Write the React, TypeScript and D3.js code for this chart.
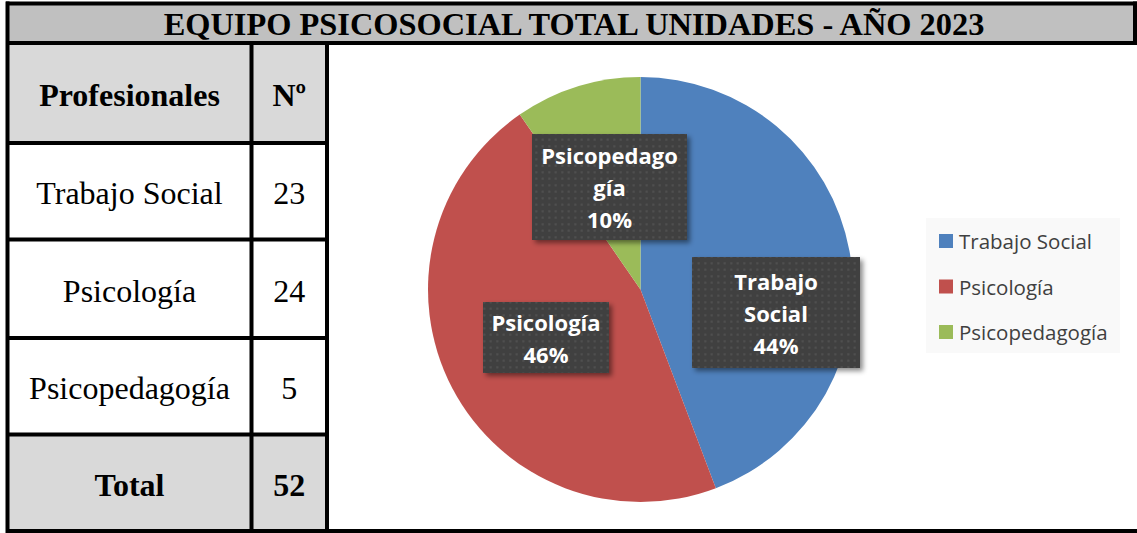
import React from "react";
import * as d3 from "d3";

const title = "EQUIPO PSICOSOCIAL TOTAL UNIDADES - AÑO 2023";
const headers = ["Profesionales", "Nº"];
const categories = ["Trabajo Social", "Psicología", "Psicopedagogía"];
const counts = [23, 24, 5];
const totalLabel = "Total";
const labelLines = [["Trabajo", "Social"], ["Psicología"], ["Psicopedago", "gía"]];
const colors = ["#4f81bd", "#c0504d", "#9bbb59"];

const W = 1137;
const H = 533;

// layout
const rowLines = [43, 143, 239.5, 338, 434.5, 531];
const colX = [7.5, 251.5, 327];
const pieC = { x: 640.5, y: 289.5, r: 212.5 };
const labelBoxes = [
  { cx: 776, cy: 312.5, w: 168, h: 111 },
  { cx: 546, cy: 337.5, w: 126, h: 71 },
  { cx: 609.5, cy: 187, w: 155, h: 106 },
];

export default function App() {
  const total = d3.sum(counts);
  const pie = d3.pie<number>().sort(null).value((d) => d);
  const arcs = pie(counts);
  const arcGen = d3.arc<d3.PieArcDatum<number>>().innerRadius(0).outerRadius(pieC.r);
  const pct = d3.format(".0%");

  const rows = [
    ...categories.map((c, i) => ({ name: c, value: String(counts[i]), bold: false, fill: "#ffffff" })),
    { name: totalLabel, value: String(total), bold: true, fill: "#d9d9d9" },
  ];

  const serif = "'Liberation Serif', 'Times New Roman', serif";
  const sans = "'Open Sans', sans-serif";

  const legendY = [241, 286.5, 332];
  const fs = 32;

  return (
    <div style={{ position: "absolute", left: 0, top: 0 }}>
      <svg width={W} height={H} style={{ display: "block" }}>
        <defs>
          <pattern id="dots" width={6.5} height={6.5} patternUnits="userSpaceOnUse">
            <rect width={6.5} height={6.5} fill="#404040" />
            <circle cx={3.25} cy={3.25} r={1.1} fill="#535353" />
          </pattern>
          <filter id="shadow" x="-20%" y="-20%" width="150%" height="150%">
            <feDropShadow dx={3} dy={3} stdDeviation={2.5} floodColor="#000" floodOpacity={0.45} />
          </filter>
        </defs>
        <rect x={0} y={0} width={W} height={H} fill="#ffffff" />
        {/* title bar */}
        <rect x={7.5} y={3.5} width={W - 7.5} height={rowLines[0] - 3.5} fill="#c0c0c0" />
        <text x={574} y={24} textAnchor="middle" dominantBaseline="central" fontFamily={serif} fontWeight="bold" fontSize={32.4} fill="#000">
          {title}
        </text>
        {/* header row */}
        <rect x={colX[0]} y={rowLines[0]} width={colX[2] - colX[0]} height={rowLines[1] - rowLines[0]} fill="#d9d9d9" />
        <text x={(colX[0] + colX[1]) / 2} y={(rowLines[0] + rowLines[1]) / 2 + 2} textAnchor="middle" dominantBaseline="central" fontFamily={serif} fontWeight="bold" fontSize={fs}>
          {headers[0]}
        </text>
        <text x={(colX[1] + colX[2]) / 2} y={(rowLines[0] + rowLines[1]) / 2 + 2} textAnchor="middle" dominantBaseline="central" fontFamily={serif} fontWeight="bold" fontSize={fs}>
          {headers[1]}
        </text>
        {rows.map((r, i) => {
          const y0 = rowLines[i + 1];
          const y1 = rowLines[i + 2];
          const cy = (y0 + y1) / 2 + 2;
          return (
            <g key={r.name}>
              <rect x={colX[0]} y={y0} width={colX[2] - colX[0]} height={y1 - y0} fill={r.fill} />
              <text x={(colX[0] + colX[1]) / 2} y={cy} textAnchor="middle" dominantBaseline="central" fontFamily={serif} fontWeight={r.bold ? "bold" : "normal"} fontSize={fs}>
                {r.name}
              </text>
              <text x={(colX[1] + colX[2]) / 2} y={cy} textAnchor="middle" dominantBaseline="central" fontFamily={serif} fontWeight={r.bold ? "bold" : "normal"} fontSize={fs}>
                {r.value}
              </text>
            </g>
          );
        })}
        {/* grid lines */}
        <g stroke="#000" strokeWidth={4}>
          <line x1={6} x2={W} y1={3.5} y2={3.5} />
          <line x1={6} x2={W} y1={rowLines[0]} y2={rowLines[0]} />
          {rowLines.slice(1, 5).map((y) => (
            <line key={y} x1={6} x2={colX[2] + 2} y1={y} y2={y} />
          ))}
          <line x1={6} x2={W} y1={rowLines[5]} y2={rowLines[5]} />
          <line x1={colX[0]} x2={colX[0]} y1={1.5} y2={H} />
          <line x1={colX[1]} x2={colX[1]} y1={rowLines[0]} y2={H} />
          <line x1={colX[2]} x2={colX[2]} y1={rowLines[0]} y2={H} />
          <line x1={1135} x2={1135} y1={1.5} y2={rowLines[0]} />
        </g>
        {/* pie */}
        <g transform={`translate(${pieC.x},${pieC.y})`}>
          {arcs.map((a, i) => (
            <path key={i} d={arcGen(a) || ""} fill={colors[i]} />
          ))}
        </g>
        {/* data labels */}
        {arcs.map((a, i) => {
          const b = labelBoxes[i];
          const lines = [...labelLines[i], pct(counts[i] / total)];
          const lh = 32;
          const startY = b.cy - ((lines.length - 1) * lh) / 2;
          return (
            <g key={i}>
              <rect x={b.cx - b.w / 2} y={b.cy - b.h / 2} width={b.w} height={b.h} fill="url(#dots)" filter="url(#shadow)" />
              {lines.map((t, j) => (
                <text key={j} x={b.cx} y={startY + j * lh} textAnchor="middle" dominantBaseline="central" fontFamily={sans} fontWeight="bold" fontSize={22} fill="#ffffff">
                  {t}
                </text>
              ))}
            </g>
          );
        })}
        {/* legend */}
        <rect x={926} y={218} width={194} height={135} fill="#f9f9f9" />
        {categories.map((c, i) => (
          <g key={c}>
            <rect x={939} y={legendY[i] - 7} width={14} height={14} fill={colors[i]} />
            <text x={959} y={legendY[i]} dominantBaseline="central" fontFamily={sans} fontSize={20.5} fill="#404040">
              {c}
            </text>
          </g>
        ))}
      </svg>
    </div>
  );
}
